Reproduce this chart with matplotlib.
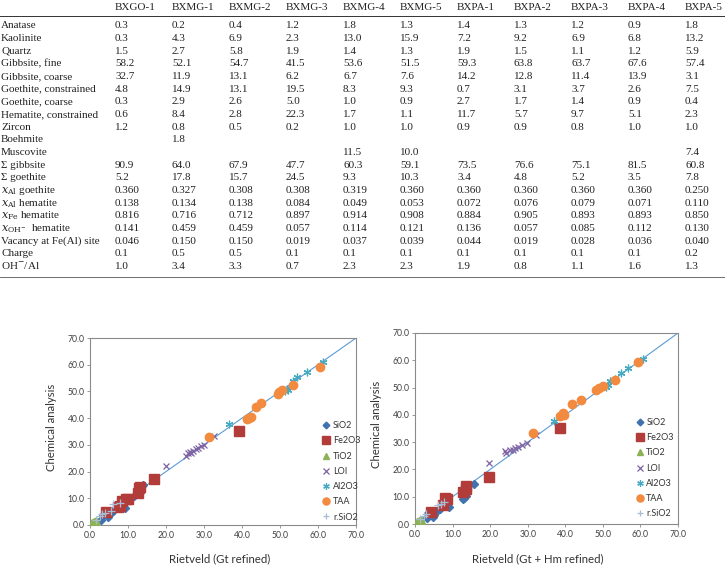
import numpy as np
import matplotlib
matplotlib.use('Agg')
import matplotlib.pyplot as plt
from matplotlib.lines import Line2D

plt.rcParams['mathtext.fontset'] = 'dejavuserif'

W, H = 725, 567

# ---- table data ----
samples = ['BXGO-1', 'BXMG-1', 'BXMG-2', 'BXMG-3', 'BXMG-4', 'BXMG-5',
           'BXPA-1', 'BXPA-2', 'BXPA-3', 'BXPA-4', 'BXPA-5']
rows = ['Anatase', 'Kaolinite', 'Quartz', 'Gibbsite, fine', 'Gibbsite, coarse',
        'Goethite, constrained', 'Goethite, coarse', 'Hematite, constrained',
        'Zircon', 'Boehmite', 'Muscovite', '\u03a3 gibbsite', '\u03a3 goethite',
        r'$x_{\mathrm{Al}}$ goethite', r'$x_{\mathrm{Al}}$ hematite',
        r'$x_{\mathrm{Fe}}$ hematite', r'$x_{\mathrm{OH^{-}}}$  hematite',
        'Vacancy at Fe(Al) site', 'Charge', r'OH$^{-}$/Al']

bxgo1 = ['0.3', '0.3', '1.5', '58.2', '32.7', '4.8', '0.3', '0.6', '1.2', '', '',
         '90.9', '5.2', '0.360', '0.138', '0.816', '0.141', '0.046', '0.1', '1.0']
bxmg1 = ['0.2', '4.3', '2.7', '52.1', '11.9', '14.9', '2.9', '8.4', '0.8', '1.8', '',
         '64.0', '17.8', '0.327', '0.134', '0.716', '0.459', '0.150', '0.5', '3.4']
bxmg2 = ['0.4', '6.9', '5.8', '54.7', '13.1', '13.1', '2.6', '2.8', '0.5', '', '',
         '67.9', '15.7', '0.308', '0.138', '0.712', '0.459', '0.150', '0.5', '3.3']
bxmg3 = ['1.2', '2.3', '1.9', '41.5', '6.2', '19.5', '5.0', '22.3', '0.2', '', '',
         '47.7', '24.5', '0.308', '0.084', '0.897', '0.057', '0.019', '0.1', '0.7']
bxmg4 = ['1.8', '13.0', '1.4', '53.6', '6.7', '8.3', '1.0', '1.7', '1.0', '', '11.5',
         '60.3', '9.3', '0.319', '0.049', '0.914', '0.114', '0.037', '0.1', '2.3']
bxmg5 = ['1.3', '15.9', '1.3', '51.5', '7.6', '9.3', '0.9', '1.1', '1.0', '', '10.0',
         '59.1', '10.3', '0.360', '0.053', '0.908', '0.121', '0.039', '0.1', '2.3']
bxpa1 = ['1.4', '7.2', '1.9', '59.3', '14.2', '0.7', '2.7', '11.7', '0.9', '', '',
         '73.5', '3.4', '0.360', '0.072', '0.884', '0.136', '0.044', '0.1', '1.9']
bxpa2 = ['1.3', '9.2', '1.5', '63.8', '12.8', '3.1', '1.7', '5.7', '0.9', '', '',
         '76.6', '4.8', '0.360', '0.076', '0.905', '0.057', '0.019', '0.1', '0.8']
bxpa3 = ['1.2', '6.9', '1.1', '63.7', '11.4', '3.7', '1.4', '9.7', '0.8', '', '',
         '75.1', '5.2', '0.360', '0.079', '0.893', '0.085', '0.028', '0.1', '1.1']
bxpa4 = ['0.9', '6.8', '1.2', '67.6', '13.9', '2.6', '0.9', '5.1', '1.0', '', '',
         '81.5', '3.5', '0.360', '0.071', '0.893', '0.112', '0.036', '0.1', '1.6']
bxpa5 = ['1.8', '13.2', '5.9', '57.4', '3.1', '7.5', '0.4', '2.3', '1.0', '', '7.4',
         '60.8', '7.8', '0.250', '0.110', '0.850', '0.130', '0.040', '0.2', '1.3']
table_cols = [bxgo1, bxmg1, bxmg2, bxmg3, bxmg4, bxmg5, bxpa1, bxpa2, bxpa3, bxpa4, bxpa5]

# ---- chart data: (Rietveld, chemical) pairs ----
# left chart: Gt refined
sio2_a = ([2.9, 3.3, 4.8, 5.6, 6.0, 9.2, 9.8, 10.2, 11.5, 12.6, 14.0],
          [2.0, 3.6, 3.0, 4.6, 5.2, 6.4, 9.2, 9.8, 10.8, 12.0, 14.9])
fe2o3_a = ([4.1, 7.4, 7.8, 8.5, 9.5, 10.1, 12.7, 13.0, 13.2, 16.9, 39.2],
           [4.7, 6.8, 7.2, 9.0, 9.7, 9.9, 11.8, 13.7, 14.3, 17.4, 35.2])
tio2_a = ([0.3, 0.4, 0.5, 0.8, 1.0, 1.2, 1.3, 1.5, 1.7, 1.8, 0.9],
          [0.3, 0.6, 1.2, 1.1, 1.6, 1.5, 0.9, 1.3, 1.7, 1.2, 0.6])
loi_a = ([19.9, 25.3, 25.8, 26.2, 26.6, 27.2, 27.8, 28.5, 29.2, 30.0, 32.6],
         [22.1, 26.0, 26.8, 27.3, 27.0, 27.8, 28.3, 28.8, 29.4, 29.9, 33.2])
al2o3_a = ([36.6, 51.4, 51.8, 52.2, 53.5, 54.6, 57.0, 61.4],
           [37.8, 50.3, 50.9, 50.4, 54.0, 55.3, 57.2, 61.0])
taa_a = ([31.4, 41.3, 41.8, 42.4, 43.7, 44.9, 49.6, 49.8, 50.4, 53.3, 60.4],
         [33.0, 39.7, 40.0, 40.5, 44.3, 45.5, 48.9, 49.8, 50.5, 52.4, 59.2])
rsio2_a = ([1.5, 2.6, 3.1, 4.0, 5.5, 6.1, 8.0],
           [1.9, 3.3, 4.0, 4.5, 5.1, 7.8, 8.2])

# right chart: Gt + Hm refined
sio2_b = ([3.1, 3.4, 4.7, 5.0, 5.8, 6.6, 9.1, 12.7, 13.1, 13.6, 15.7],
          [2.1, 3.9, 2.7, 3.2, 4.9, 5.4, 6.1, 9.1, 9.6, 10.2, 14.8])
fe2o3_b = ([4.2, 7.4, 8.0, 8.6, 12.8, 13.6, 13.7, 19.8, 38.7],
           [4.5, 6.8, 9.6, 9.0, 11.8, 13.0, 14.0, 17.3, 35.3])
tio2_b = ([0.3, 0.4, 0.5, 0.8, 1.0, 1.2, 1.3, 1.5, 1.7, 1.8, 0.9],
          [0.3, 0.6, 1.2, 1.1, 1.6, 1.5, 0.9, 1.3, 1.7, 1.2, 0.6])
loi_b = ([19.7, 23.9, 24.3, 25.2, 26.0, 26.6, 27.5, 28.6, 29.7, 32.1],
         [22.3, 26.6, 26.2, 27.3, 27.1, 27.8, 28.4, 29.0, 29.6, 32.7])
al2o3_b = ([37.0, 50.9, 51.5, 51.8, 53.1, 54.7, 56.7, 60.7],
           [37.6, 50.2, 50.8, 52.5, 53.1, 55.5, 57.2, 60.5])
taa_b = ([31.3, 38.7, 39.3, 39.6, 41.9, 44.3, 48.1, 49.0, 50.0, 53.3, 59.3],
         [33.2, 39.5, 40.6, 40.1, 44.0, 45.6, 49.1, 49.7, 50.4, 52.8, 59.4])
rsio2_b = ([1.4, 2.5, 3.0, 6.0, 6.8, 7.6],
           [1.8, 2.8, 3.8, 7.0, 7.4, 7.9])

series_names = ['SiO2', 'Fe2O3', 'TiO2', 'LOI', 'Al2O3', 'TAA', 'r.SiO2']
colors = ['#3F72AF', '#B23C3A', '#8DB255', '#7D63A3', '#45A9C2', '#F28B40', '#A9BCD6']
markers = ['D', 's', '^', 'x', (6, 2, 0), 'o', '+']
msizes = [4.0, 6.5, 5.0, 5.0, 5.5, 6.0, 5.5]

fig = plt.figure(figsize=(W / 100, H / 100), dpi=100)


def fx(px):
    return px / W


def fy(py):
    return 1 - py / H


# ---- table ----
tfont = 'Liberation Serif'
col_x = [115 + 57 * i for i in range(len(samples))]
row_y0, row_dy = 26, 12.65

for cx, name in zip(col_x, samples):
    fig.text(fx(cx), fy(8), name, fontsize=8, family=tfont, ha='left', va='center', color='#222222')
fig.add_artist(Line2D([0, 1], [fy(15.5), fy(15.5)], transform=fig.transFigure, color='#333333', lw=0.7))
fig.add_artist(Line2D([0, 1], [fy(277), fy(277)], transform=fig.transFigure, color='#555555', lw=0.6))

for i, lab in enumerate(rows):
    y = row_y0 + i * row_dy
    fig.text(fx(1), fy(y), lab, fontsize=8, family=tfont, ha='left', va='center', color='#222222')
    for cx, col in zip(col_x, table_cols):
        if col[i]:
            fig.text(fx(cx), fy(y), col[i], fontsize=8, family=tfont, ha='left', va='center', color='#222222')

# ---- charts ----
cfont = 'Lato'


def scatter_panel(rect, data, xlabel, xlab_pos, ylab_pos, leg_anchor):
    ax = fig.add_axes(rect)
    ax.plot([0, 70], [0, 70], color='#5B9BD5', lw=0.8, zorder=1)
    for (xs, ys), name, c, m, s in zip(data, series_names, colors, markers, msizes):
        if m in ('x', '+') or isinstance(m, tuple):
            ax.plot(xs, ys, ls='none', marker=m, ms=s, mew=0.9, color=c, label=name, zorder=3)
        else:
            ax.plot(xs, ys, ls='none', marker=m, ms=s, mec=c, mfc=c, color=c, label=name, zorder=3)
    ax.set_xlim(0, 70)
    ax.set_ylim(0, 70)
    ticks = np.arange(0, 71, 10)
    ax.set_xticks(ticks)
    ax.set_yticks(ticks)
    ax.set_xticklabels(['%.1f' % t for t in ticks])
    ax.set_yticklabels(['%.1f' % t for t in ticks])
    ax.tick_params(labelsize=6.2, length=2, width=0.6, color='#888888', labelcolor='#404040', pad=2)
    for lab in ax.get_xticklabels() + ax.get_yticklabels():
        lab.set_family(cfont)
    for sp in ax.spines.values():
        sp.set_color('#8a8a8a')
        sp.set_linewidth(0.8)
    ax.set_xlabel(xlabel, fontsize=8.2, family=cfont, color='#333333')
    ax.xaxis.set_label_coords(*xlab_pos)
    ax.set_ylabel('Chemical analysis', fontsize=8.2, family=cfont, color='#333333')
    ax.yaxis.set_label_coords(*ylab_pos)
    leg = ax.legend(loc='upper left', bbox_to_anchor=leg_anchor, frameon=False,
                    prop={'family': cfont, 'size': 6.5}, handlelength=0.8, handletextpad=0.35,
                    labelspacing=0.69, borderpad=0, borderaxespad=0, markerscale=0.85)
    for t in leg.get_texts():
        t.set_color('#333333')
    return ax


data_a = [sio2_a, fe2o3_a, tio2_a, loi_a, al2o3_a, taa_a, rsio2_a]
data_b = [sio2_b, fe2o3_b, tio2_b, loi_b, al2o3_b, taa_b, rsio2_b]

scatter_panel([fx(90), fy(525), (356 - 90) / W, (525 - 338) / H], data_a,
              'Rietveld (Gt refined)', (0.489, -0.15), (-0.124, 0.52), (0.875, 0.555))
scatter_panel([fx(415), fy(524), (678 - 415) / W, (524 - 333) / H], data_b,
              'Rietveld (Gt + Hm refined)', (0.468, -0.152), (-0.125, 0.52), (0.84, 0.555))

fig.savefig('out.png', dpi=100)
